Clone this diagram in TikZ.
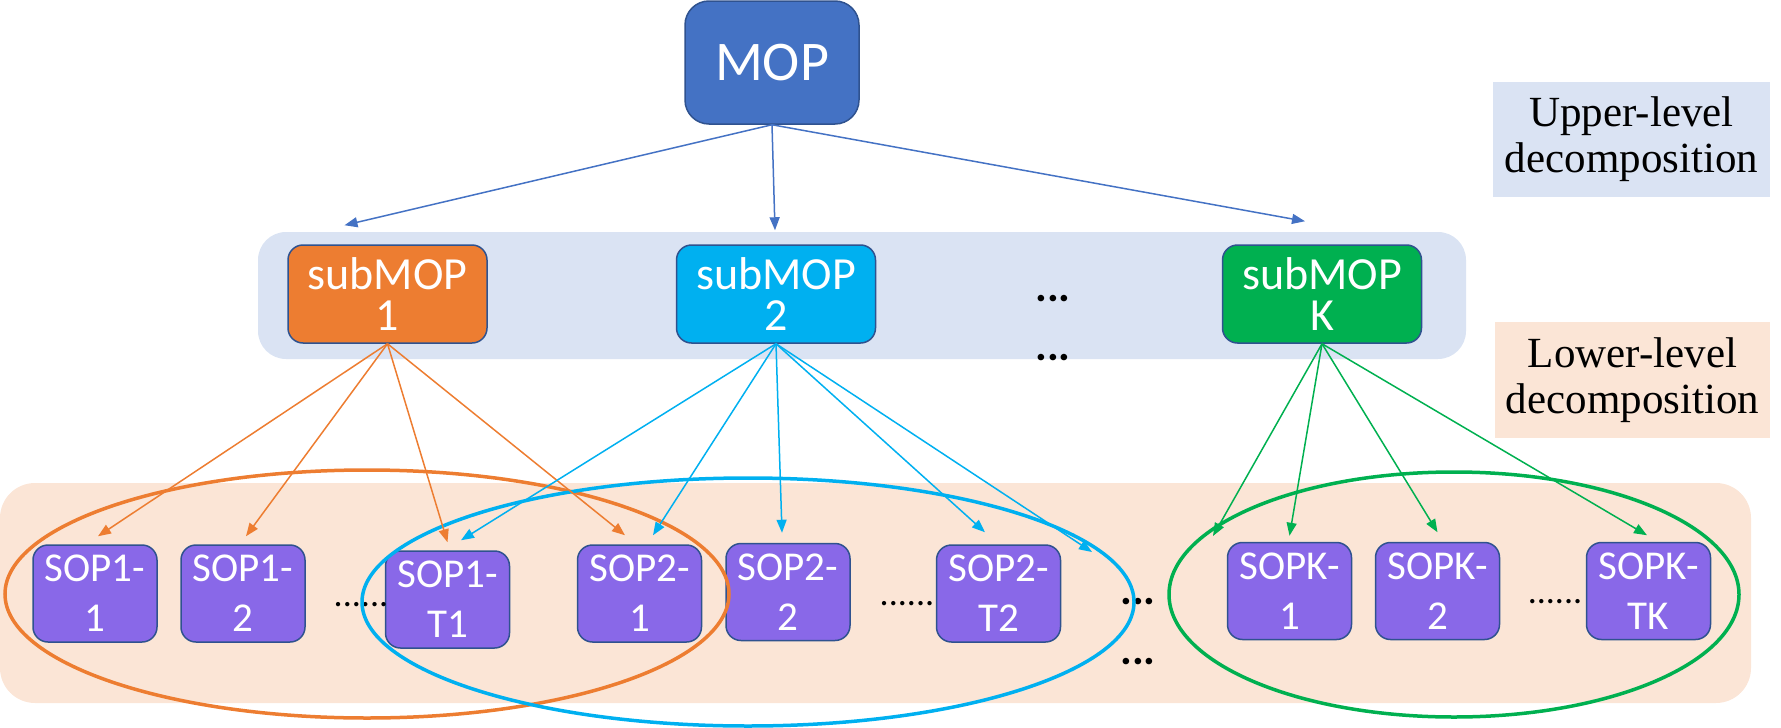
\documentclass[tikz,border=0pt]{standalone}
\usepackage{fontspec}
\newfontfamily\calibri{Carlito}
\newfontfamily\timesf{Liberation Serif}
\usetikzlibrary{arrows.meta}
\definecolor{mopblue}{RGB}{68,114,196}
\definecolor{edgeblue}{RGB}{47,82,143}
\definecolor{orng}{RGB}{237,125,49}
\definecolor{cyanb}{RGB}{0,176,240}
\definecolor{grn}{RGB}{0,176,80}
\definecolor{purp}{RGB}{137,104,232}
\definecolor{bandblue}{RGB}{218,227,243}
\definecolor{bandpink}{RGB}{251,229,214}
\begin{document}
\begin{tikzpicture}[x=1pt,y=-1pt,
 box/.style={draw=edgeblue, line width=1.5pt, text=white, align=center, inner sep=0pt},
 mopbox/.style={box, fill=mopblue, minimum width=174pt, minimum height=123pt, rounded corners=24pt, font=\calibri\fontsize{56}{60}\selectfont},
 subbox/.style={box, minimum width=199pt, minimum height=98pt, rounded corners=15pt, font=\calibri\fontsize{46}{41}\selectfont},
 sopbox/.style={box, fill=purp, minimum width=124pt, minimum height=97pt, rounded corners=15pt, font=\calibri\fontsize{41}{50}\selectfont},
 arr/.style={-{Triangle[length=13pt,width=10pt]}, line width=1.5pt},
 ring/.style={line width=3.5pt},
 lbl/.style={align=center, font=\timesf\fontsize{43}{46}\selectfont, text=black, inner sep=0pt},
 dots/.style={font=\calibri\fontsize{36}{36}\selectfont, inner sep=0pt},
 bigdots/.style={font=\calibri\bfseries\fontsize{44}{44}\selectfont, inner sep=0pt},
]
\useasboundingbox (0,0) rectangle (1781,728);
% bands
\fill[bandblue, rounded corners=28pt] (258,232) rectangle (1466,359);
\fill[bandpink, rounded corners=35pt] (0,483) rectangle (1751,703);
% labels
\node[lbl, fill=bandblue, minimum width=277pt, minimum height=115pt] (ul) at (1631.5,139.5) {Upper-level\\decomposition};
\node[lbl, fill=bandpink, minimum width=275pt, minimum height=116pt] (ll) at (1632.5,380) {Lower-level\\decomposition};
% nodes
\node[mopbox] (mop) at (772,62.5) {MOP};
\node[subbox, fill=orng] (s1) at (387.5,294) {subMOP\\1};
\node[subbox, fill=cyanb] (s2) at (776,294) {subMOP\\2};
\node[subbox, fill=grn] (sK) at (1322,294) {subMOP\\K};
\node[sopbox] (sa1) at (95,593.5) {SOP1-\\1};
\node[sopbox] (sa2) at (243,593.5) {SOP1-\\2};
\node[sopbox] (saT) at (447.5,599.5) {SOP1-\\T1};
\node[sopbox] (sb1) at (639.5,593.5) {SOP2-\\1};
\node[sopbox] (sb2) at (788,592) {SOP2-\\2};
\node[sopbox] (sbT) at (998.5,593.5) {SOP2-\\T2};
\node[sopbox] (sk1) at (1289.5,591) {SOPK-\\1};
\node[sopbox] (sk2) at (1437.5,591) {SOPK-\\2};
\node[sopbox] (skT) at (1648.5,591) {SOPK-\\TK};
% dots
\node[dots] (d1) at (361,605) {......};
\node[dots] (d2) at (907,604) {......};
\node[dots] (d3) at (1555,602) {......};
\node[bigdots] (e1) at (1053,299) {...};
\node[bigdots] (e2) at (1053,358) {...};
\node[bigdots] (f1) at (1138,602) {...};
\node[bigdots] (f2) at (1138,662) {...};
% ellipses
\draw[ring, orng] (367,594) ellipse [x radius=362pt, y radius=124pt];
\draw[ring, cyanb] (748,602) ellipse [x radius=386pt, y radius=124pt];
\draw[ring, grn] (1454,594.5) ellipse [x radius=285pt, y radius=122.5pt];
\coordinate (bend) at (1092,552);
\coordinate (gend) at (1213,536);
% upper arrows
\draw[arr, mopblue] (mop.south) -- ([xshift=-43pt,yshift=19pt]s1.north);
\draw[arr, mopblue] (mop.south) -- ([xshift=-1pt,yshift=14pt]s2.north);
\draw[arr, mopblue] (mop.south) -- ([xshift=-17pt,yshift=23pt]sK.north);
% orange
\draw[arr, orng] (s1.south) -- ([xshift=3pt,yshift=8pt]sa1.north);
\draw[arr, orng] (s1.south) -- ([xshift=3pt,yshift=8pt]sa2.north);
\draw[arr, orng] (s1.south) -- ([yshift=8pt]saT.north);
\draw[arr, orng] (s1.south) -- ([xshift=-14.5pt,yshift=9pt]sb1.north);
% cyan
\draw[arr, cyanb] (s2.south) -- ([xshift=13.5pt,yshift=10pt]saT.north);
\draw[arr, cyanb] (s2.south) -- ([xshift=13.5pt,yshift=9pt]sb1.north);
\draw[arr, cyanb] (s2.south) -- ([xshift=-6pt,yshift=10pt]sb2.north);
\draw[arr, cyanb] (s2.south) -- ([xshift=-13.5pt,yshift=12pt]sbT.north);
\draw[arr, cyanb] (s2.south) -- (bend);
% green
\draw[arr, grn] (sK.south) -- (gend);
\draw[arr, grn] (sK.south) -- ([yshift=6pt]sk1.north);
\draw[arr, grn] (sK.south) -- ([yshift=9.5pt]sk2.north);
\draw[arr, grn] (sK.south) -- ([xshift=-1.5pt,yshift=6.5pt]skT.north);
\end{tikzpicture}
\end{document}
